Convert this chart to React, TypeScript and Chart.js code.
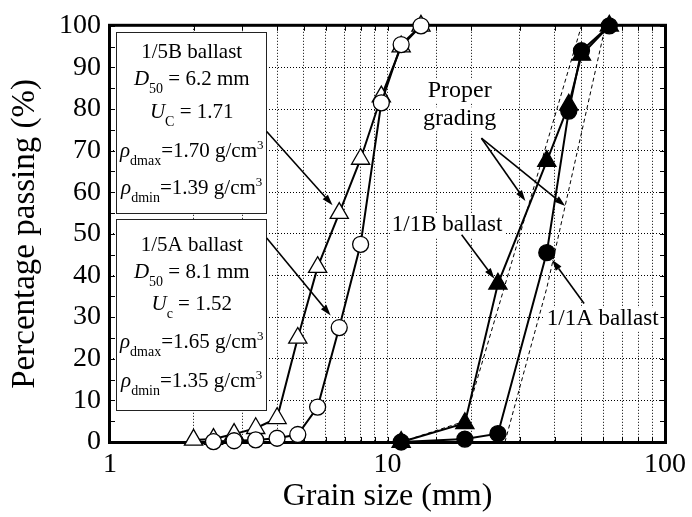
import { useEffect, useRef } from "react";
import { Chart, registerables } from "chart.js";

Chart.register(...registerables);

const SERIF = '"Liberation Serif", "Times New Roman", serif';

// Sieve sizes (mm) and cumulative percentage passing for each ballast
const sieve15B = [2, 2.36, 2.8, 3.35, 4, 4.75, 5.6, 6.7, 8, 9.5, 11.2, 13.2];
const passing15B = [0.5, 0.7, 1.9, 3.3, 5.7, 25, 42, 55, 68, 83, 95, 100];
const sieve15A = [2.36, 2.8, 3.35, 4, 4.75, 5.6, 6.7, 8, 9.5, 11.2, 13.2];
const passing15A = [0.1, 0.3, 0.5, 0.9, 1.8, 8.4, 27.5, 47.5, 81.5, 95.5, 100];
const sieve11 = [11.2, 19, 25, 37.5, 45, 50, 63];
const passing11B = [0, 4.5, 38, 67.5, 81, 93, 100];
const passing11A = [0, 0.7, 2, 45.5, 79.5, 94, 100];

// Limits of the proper grading band
const gradingFineSize = [11.2, 19, 50];
const gradingFinePass = [0, 5, 100];
const gradingCoarseSize = [26.5, 37.5, 61];
const gradingCoarsePass = [0, 37, 100];

const xLabelValues = [1, 10, 100];

const pairs = (xs: number[], ys: number[]) => xs.map((x, i) => ({ x, y: ys[i] }));

type Run = { t: string; k?: "it" | "sub" | "sup" };

const box15B: Run[][] = [
  [{ t: "1/5B ballast" }],
  [{ t: "D", k: "it" }, { t: "50", k: "sub" }, { t: " = 6.2 mm" }],
  [{ t: "U", k: "it" }, { t: "C", k: "sub" }, { t: " = 1.71" }],
  [{ t: "ρ", k: "it" }, { t: "dmax", k: "sub" }, { t: "=1.70 g/cm" }, { t: "3", k: "sup" }],
  [{ t: "ρ", k: "it" }, { t: "dmin", k: "sub" }, { t: "=1.39 g/cm" }, { t: "3", k: "sup" }],
];
const box15A: Run[][] = [
  [{ t: "1/5A ballast" }],
  [{ t: "D", k: "it" }, { t: "50", k: "sub" }, { t: " = 8.1 mm" }],
  [{ t: "U", k: "it" }, { t: "c", k: "sub" }, { t: " = 1.52" }],
  [{ t: "ρ", k: "it" }, { t: "dmax", k: "sub" }, { t: "=1.65 g/cm" }, { t: "3", k: "sup" }],
  [{ t: "ρ", k: "it" }, { t: "dmin", k: "sub" }, { t: "=1.35 g/cm" }, { t: "3", k: "sup" }],
];

// Annotation placement in data units (mm, %)
const infoBoxes = [
  { x0: 1.05, x1: 3.64, yTop: 98.6, yBottom: 55.0, cx: 1.97, lines: box15B, baselines: [92.2, 85.8, 77.8, 68.4, 59.6] },
  { x0: 1.05, x1: 3.64, yTop: 53.6, yBottom: 7.7, cx: 1.97, lines: box15A, baselines: [45.8, 39.5, 31.6, 22.5, 13.2] },
];
const callouts = [
  { text: "Proper", x: 18.2, y: 82.8, size: 24 },
  { text: "grading", x: 18.2, y: 76.1, size: 24 },
  { text: "1/1B ballast", x: 16.4, y: 50.7, size: 23 },
  { text: "1/1A ballast", x: 59.6, y: 28.0, size: 23 },
];
const arrows = [
  [3.67, 74.6, 6.34, 56.9],
  [3.67, 49.0, 6.24, 30.4],
  [21.8, 73.0, 31.4, 57.9],
  [21.8, 73.0, 43.7, 56.7],
  [18.5, 49.8, 24.3, 39.2],
  [51.1, 33.3, 39.2, 43.8],
];

function drawRich(ctx: CanvasRenderingContext2D, runs: Run[], cx: number, baseline: number, size: number) {
  const spec = (r: Run) => {
    if (r.k === "sub") return { font: `${Math.round(size * 0.66)}px ${SERIF}`, dy: 8 };
    if (r.k === "sup") return { font: `${Math.round(size * 0.62)}px ${SERIF}`, dy: -8 };
    if (r.k === "it") return { font: `italic ${size}px ${SERIF}`, dy: 0 };
    return { font: `${size}px ${SERIF}`, dy: 0 };
  };
  let w = 0;
  for (const r of runs) {
    ctx.font = spec(r).font;
    w += ctx.measureText(r.t).width;
  }
  let x = cx - w / 2;
  ctx.textAlign = "left";
  ctx.textBaseline = "alphabetic";
  for (const r of runs) {
    const s = spec(r);
    ctx.font = s.font;
    ctx.fillText(r.t, x, baseline + s.dy);
    x += ctx.measureText(r.t).width;
  }
}

function drawArrow(ctx: CanvasRenderingContext2D, x1: number, y1: number, x2: number, y2: number) {
  const ang = Math.atan2(y2 - y1, x2 - x1);
  const len = 11;
  const half = 3.5;
  const bx = x2 - Math.cos(ang) * len;
  const by = y2 - Math.sin(ang) * len;
  ctx.beginPath();
  ctx.moveTo(x1, y1);
  ctx.lineTo(bx, by);
  ctx.lineWidth = 1.6;
  ctx.stroke();
  ctx.beginPath();
  ctx.moveTo(x2, y2);
  ctx.lineTo(bx + Math.sin(ang) * half, by - Math.cos(ang) * half);
  ctx.lineTo(bx - Math.sin(ang) * half, by + Math.cos(ang) * half);
  ctx.closePath();
  ctx.fill();
}

const framePlugin = {
  id: "frameAndNotes",
  beforeDatasetsDraw(chart: any) {
    const { ctx, chartArea: a, scales } = chart;
    const xs = scales.x;
    const ys = scales.y;
    ctx.save();
    ctx.strokeStyle = "#000";
    ctx.lineWidth = 1;
    // inner tick marks
    for (let v = 0; v <= 100; v += 5) {
      const y = Math.round(ys.getPixelForValue(v)) + 0.5;
      ctx.beginPath();
      ctx.moveTo(a.left, y);
      ctx.lineTo(a.left + 5, y);
      ctx.moveTo(a.right, y);
      ctx.lineTo(a.right - 5, y);
      ctx.stroke();
    }
    for (const t of xs.ticks) {
      const x = Math.round(xs.getPixelForValue(t.value)) + 0.5;
      ctx.beginPath();
      ctx.moveTo(x, a.top);
      ctx.lineTo(x, a.top + 5);
      ctx.moveTo(x, a.bottom);
      ctx.lineTo(x, a.bottom - 5);
      ctx.stroke();
    }
    ctx.lineWidth = 3;
    ctx.strokeRect(a.left - 0.5, a.top - 0.5, a.right - a.left + 1, a.bottom - a.top + 1);
    ctx.restore();
  },
  afterDatasetsDraw(chart: any) {
    const { ctx, scales } = chart;
    const px = (v: number) => scales.x.getPixelForValue(v);
    const py = (v: number) => scales.y.getPixelForValue(v);
    ctx.save();
    ctx.fillStyle = "#000";
    ctx.strokeStyle = "#000";
    for (const b of infoBoxes) {
      const l = Math.round(px(b.x0)) + 0.5;
      const r = Math.round(px(b.x1)) + 0.5;
      const t = Math.round(py(b.yTop)) + 0.5;
      const btm = Math.round(py(b.yBottom)) + 0.5;
      ctx.fillStyle = "#fff";
      ctx.fillRect(l, t, r - l, btm - t);
      ctx.lineWidth = 1;
      ctx.strokeStyle = "#222";
      ctx.strokeRect(l, t, r - l, btm - t);
      ctx.fillStyle = "#000";
      b.lines.forEach((runs, i) => drawRich(ctx, runs, px(b.cx), py(b.baselines[i]), 21));
    }
    ctx.textAlign = "center";
    ctx.textBaseline = "alphabetic";
    for (const c of callouts) {
      ctx.font = `${c.size}px ${SERIF}`;
      const w = ctx.measureText(c.text).width;
      const x = px(c.x);
      const y = py(c.y);
      ctx.fillStyle = "#fff";
      ctx.fillRect(x - w / 2 - 2, y - 18, w + 4, 24);
    }
    ctx.fillStyle = "#000";
    for (const c of callouts) {
      ctx.font = `${c.size}px ${SERIF}`;
      ctx.fillText(c.text, px(c.x), py(c.y));
    }
    ctx.strokeStyle = "#000";
    for (const [x1, y1, x2, y2] of arrows) drawArrow(ctx, px(x1), py(y1), px(x2), py(y2));
    ctx.restore();
  },
};

export default function App() {
  const ref = useRef<HTMLCanvasElement>(null);
  useEffect(() => {
    if (!ref.current) return;
    const marker = (style: string, filled: boolean, radius: number) => ({
      borderColor: "#000",
      borderWidth: 2,
      pointStyle: style,
      pointRadius: radius,
      pointBackgroundColor: filled ? "#000" : "#fff",
      pointBorderColor: "#000",
      pointBorderWidth: 1.3,
      showLine: true,
      clip: false as const,
    });
    const chart = new Chart(ref.current, {
      type: "scatter",
      data: {
        datasets: [
          { label: "1/1A ballast", data: pairs(sieve11, passing11A), ...marker("circle", true, 8) },
          { label: "1/1B ballast", data: pairs(sieve11, passing11B), ...marker("triangle", true, 10.5) },
          { label: "1/5A ballast", data: pairs(sieve15A, passing15A), ...marker("circle", false, 8) },
          { label: "1/5B ballast", data: pairs(sieve15B, passing15B), ...marker("triangle", false, 10.5) },
          {
            label: "Proper grading (fine limit)",
            data: pairs(gradingFineSize, gradingFinePass),
            showLine: true,
            borderColor: "#000",
            borderWidth: 1,
            borderDash: [4, 3],
            pointRadius: 0,
          },
          {
            label: "Proper grading (coarse limit)",
            data: pairs(gradingCoarseSize, gradingCoarsePass),
            showLine: true,
            borderColor: "#000",
            borderWidth: 1,
            borderDash: [4, 3],
            pointRadius: 0,
          },
        ],
      },
      options: {
        animation: false,
        responsive: false,
        events: [],
        layout: { padding: { top: 24, right: 26, bottom: 0, left: 0 } },
        plugins: { legend: { display: false }, tooltip: { enabled: false } },
        scales: {
          x: {
            type: "logarithmic",
            min: 1,
            max: 100,
            afterFit: (s: any) => {
              s.height = 75;
            },
            grid: { color: "#000", lineWidth: 1, drawTicks: false },
            border: { display: false, dash: [1, 2] },
            ticks: {
              autoSkip: false,
              maxRotation: 0,
              padding: 6,
              color: "#000",
              font: { family: SERIF, size: 28 },
              callback: (v: any) => (xLabelValues.includes(Number(v)) ? String(v) : ""),
            },
            title: {
              display: true,
              text: "Grain size (mm)",
              color: "#000",
              font: { family: SERIF, size: 32 },
              padding: { top: 0, bottom: 1 },
            },
          },
          y: {
            min: 0,
            max: 100,
            afterFit: (s: any) => {
              s.width = 110;
            },
            grid: { color: "#000", lineWidth: 1, drawTicks: false },
            border: { display: false, dash: [1, 2] },
            ticks: { stepSize: 10, padding: 9, color: "#000", font: { family: SERIF, size: 28 } },
            title: {
              display: true,
              text: "Percentage passing (%)",
              color: "#000",
              font: { family: SERIF, size: 33 },
              padding: { top: 6, bottom: 0 },
            },
          },
        },
      },
      plugins: [framePlugin],
    });
    return () => chart.destroy();
  }, []);
  return (
    <div style={{ position: "absolute", left: 0, top: 0, width: 692, height: 517, background: "#fff" }}>
      <canvas ref={ref} width={692} height={517} style={{ display: "block" }} />
    </div>
  );
}
